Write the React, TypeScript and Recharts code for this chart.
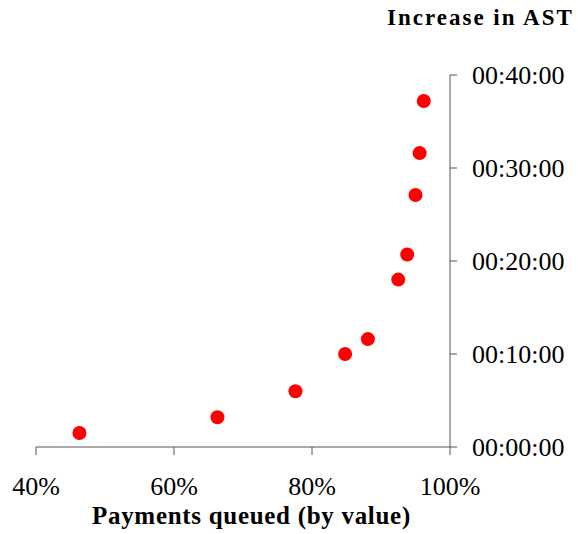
import React from 'react';
import { ScatterChart, Scatter, XAxis, YAxis } from 'recharts';

// share of payments queued (by value), %
const queuedPct = [46.3, 66.3, 77.6, 84.8, 88.1, 92.5, 93.8, 95.0, 95.6, 96.2];
// increase in AST, minutes
const astMinutes = [1.5, 3.2, 6.0, 10.0, 11.6, 18.0, 20.7, 27.1, 31.6, 37.2];

const xTicks = [40, 60, 80, 100];
const yTicks = [0, 10, 20, 30, 40];

const data = queuedPct.map((x, i) => ({ x, y: astMinutes[i] }));

const serif = '"Liberation Serif", "Times New Roman", serif';

const fmtTime = (m: number) => {
  const mm = String(Math.floor(m)).padStart(2, '0');
  return `00:${mm}:00`;
};

const Dot = (props: any) => {
  const { cx, cy } = props;
  return <ellipse cx={cx} cy={cy} rx={7} ry={7} fill="#ff0000" />;
};

export default function App() {
  return (
    <div style={{ position: 'absolute', left: 0, top: 0, width: 578, height: 534, background: '#fff' }}>
      <ScatterChart
        width={578}
        height={534}
        margin={{ top: 75, right: 0, bottom: 0, left: 36 }}
      >
        <XAxis
          type="number"
          dataKey="x"
          domain={[40, 100]}
          ticks={xTicks}
          tickFormatter={(v) => `${v}%`}
          height={87}
          stroke="#555"
          tickSize={8}
          tickMargin={22}
          tick={{ fill: '#000', fontSize: 26, fontFamily: serif }}
          allowDataOverflow
        />
        <YAxis
          type="number"
          dataKey="y"
          orientation="right"
          domain={[0, 40]}
          ticks={yTicks}
          tickFormatter={fmtTime}
          width={128}
          stroke="#555"
          tickSize={7}
          tickMargin={15}
          tick={{ fill: '#000', fontSize: 26, fontFamily: serif }}
        />
        <Scatter data={data} shape={<Dot />} isAnimationActive={false} />
      </ScatterChart>
      <div
        style={{
          position: 'absolute',
          left: 387,
          top: 5,
          fontFamily: serif,
          fontWeight: 'bold',
          fontSize: 23,
          letterSpacing: 2,
          color: '#000',
          whiteSpace: 'nowrap',
        }}
      >
        Increase in AST
      </div>
      <div
        style={{
          position: 'absolute',
          left: 92,
          top: 502,
          fontFamily: serif,
          fontWeight: 'bold',
          fontSize: 25,
          letterSpacing: 0.7,
          color: '#000',
          whiteSpace: 'nowrap',
        }}
      >
        Payments queued (by value)
      </div>
    </div>
  );
}
